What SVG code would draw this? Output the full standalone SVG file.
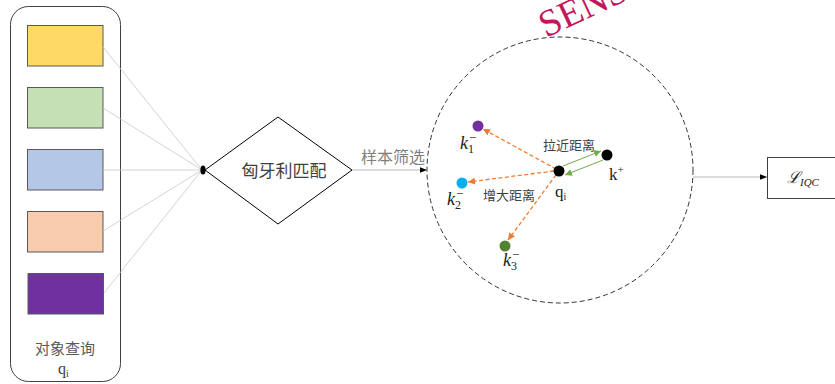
<svg xmlns="http://www.w3.org/2000/svg" width="835" height="384" viewBox="0 0 835 384">
<defs>
<style>
.cn{font-family:"Liberation Serif","Noto Sans CJK SC",serif;}
.lbl{font-family:"Liberation Serif","DejaVu Serif",serif;font-style:italic;fill:#222;}
.feat{stroke:#595959;stroke-width:1;}
.fan{stroke:#c8c8c8;stroke-width:0.8;fill:none;}
.flow{stroke:#b0b0b0;stroke-width:0.9;fill:none;}
.neg{stroke:#ED7D31;stroke-width:1.3;stroke-dasharray:4 2.5;fill:none;}
.pos{stroke:#70AD47;stroke-width:1;fill:none;}
</style>
<marker id="ah" viewBox="0 0 10 10" refX="10" refY="5" markerWidth="7" markerHeight="7" orient="auto" markerUnits="userSpaceOnUse"><path d="M0,1 L10,5 L0,9 Z" fill="#000"/></marker>
<marker id="ahO" viewBox="0 0 10 10" refX="10" refY="5" markerWidth="7" markerHeight="7" orient="auto" markerUnits="userSpaceOnUse"><path d="M0,0 L10,5 L0,10 Z" fill="#ED7D31"/></marker>
<marker id="ahG" viewBox="0 0 10 10" refX="10" refY="5" markerWidth="7" markerHeight="7" orient="auto" markerUnits="userSpaceOnUse"><path d="M0,0 L10,5 L0,10 Z" fill="#70AD47"/></marker>
</defs>
<rect width="835" height="384" fill="#fff"/>

<text class="cn" x="546" y="38" transform="rotate(-25 546 38)" font-size="38" fill="#C2185B">SENSORS</text>

<g id="queries">
<rect x="10.5" y="6.5" width="110" height="375" rx="18" fill="none" stroke="#404040" stroke-width="1"/>
<rect class="feat" x="27.5" y="25.5" width="75.5" height="40.5" fill="#FFD966"/>
<rect class="feat" x="27.5" y="87.5" width="75.5" height="40.5" fill="#C5E0B4"/>
<rect class="feat" x="27.5" y="149.5" width="75.5" height="40.5" fill="#B4C7E7"/>
<rect class="feat" x="27.5" y="211.5" width="75.5" height="40.5" fill="#F8CBAD"/>
<rect class="feat" x="28" y="273.5" width="75.5" height="40.5" fill="#7030A0"/>
<text class="cn" x="65" y="354" font-size="15" fill="#595959" text-anchor="middle">对象查询</text>
<text class="cn" x="58" y="374" font-size="16" fill="#404040">q<tspan font-size="10" dy="3">i</tspan></text>
</g>

<g id="connectors">
<path class="fan" d="M103,47 L202,170 M103,108 L202,170 M103,170 L202,170 M103,231 L202,170 M104,293 L202,170"/>
<ellipse cx="203" cy="170" rx="2.6" ry="4.5" fill="#000"/>
<line class="flow" x1="352" y1="170" x2="427" y2="170" marker-end="url(#ah)"/>
<line class="flow" x1="693" y1="177" x2="767" y2="177" marker-end="url(#ah)"/>
<line class="neg" x1="556" y1="169" x2="483" y2="129" marker-end="url(#ahO)"/>
<line class="neg" x1="554" y1="171" x2="468" y2="182" marker-end="url(#ahO)"/>
<line class="neg" x1="556" y1="175" x2="508" y2="240" marker-end="url(#ahO)"/>
<line class="pos" x1="563" y1="166" x2="601" y2="151" marker-end="url(#ahG)"/>
<line class="pos" x1="603" y1="160" x2="565" y2="175" marker-end="url(#ahG)"/>
</g>

<g id="hungarian">
<polygon points="205,170 278,117 352,170 278,224" fill="#fff" stroke="#000" stroke-width="1"/>
<text class="cn" x="284" y="177" font-size="17" fill="#404040" text-anchor="middle">匈牙利匹配</text>
</g>

<text class="cn" x="393" y="163" font-size="16" fill="#7f7f7f" text-anchor="middle">样本筛选</text>

<g id="sample-space">
<circle cx="560" cy="170" r="133" fill="none" stroke="#333" stroke-width="1" stroke-dasharray="5 3"/>
<text class="cn" x="569" y="150" font-size="13" fill="#404040" text-anchor="middle">拉近距离</text>
<text class="cn" x="509" y="200" font-size="13" fill="#404040" text-anchor="middle">增大距离</text>
</g>

<g id="k1">
<circle cx="478" cy="126" r="5.5" fill="#7030A0"/>
<text class="lbl" x="460" y="149" font-size="18">k<tspan font-size="12" dy="4" font-style="normal">1</tspan><tspan font-size="13" font-style="normal" dx="-5" dy="-11">−</tspan></text>
</g>
<g id="k2">
<circle cx="462" cy="183" r="5.5" fill="#00B0F0"/>
<text class="lbl" x="447" y="205" font-size="18">k<tspan font-size="12" dy="4" font-style="normal">2</tspan><tspan font-size="13" font-style="normal" dx="-5" dy="-11">−</tspan></text>
</g>
<g id="k3">
<circle cx="505" cy="246" r="5.5" fill="#548235"/>
<text class="lbl" x="503" y="266" font-size="18">k<tspan font-size="12" dy="4" font-style="normal">3</tspan><tspan font-size="13" font-style="normal" dx="-5" dy="-11">−</tspan></text>
</g>
<g id="qi">
<circle cx="559" cy="171" r="5.5" fill="#000"/>
<text class="cn" x="555" y="197" font-size="17" fill="#222">q<tspan font-size="10" dy="3">i</tspan></text>
</g>
<g id="kplus">
<circle cx="607" cy="155" r="5.5" fill="#000"/>
<text class="cn" x="609" y="180" font-size="17" fill="#222">k<tspan font-size="11" dy="-7">+</tspan></text>
</g>

<g id="loss">
<rect x="767.5" y="157.5" width="80" height="41" fill="#fff" stroke="#404040" stroke-width="1"/>
<text class="lbl" x="787" y="183" font-size="16" font-family="'DejaVu Serif',serif" font-style="normal">ℒ<tspan font-size="11" dy="3" font-style="italic" font-family="'Liberation Serif',serif">IQC</tspan></text>
</g>
</svg>
